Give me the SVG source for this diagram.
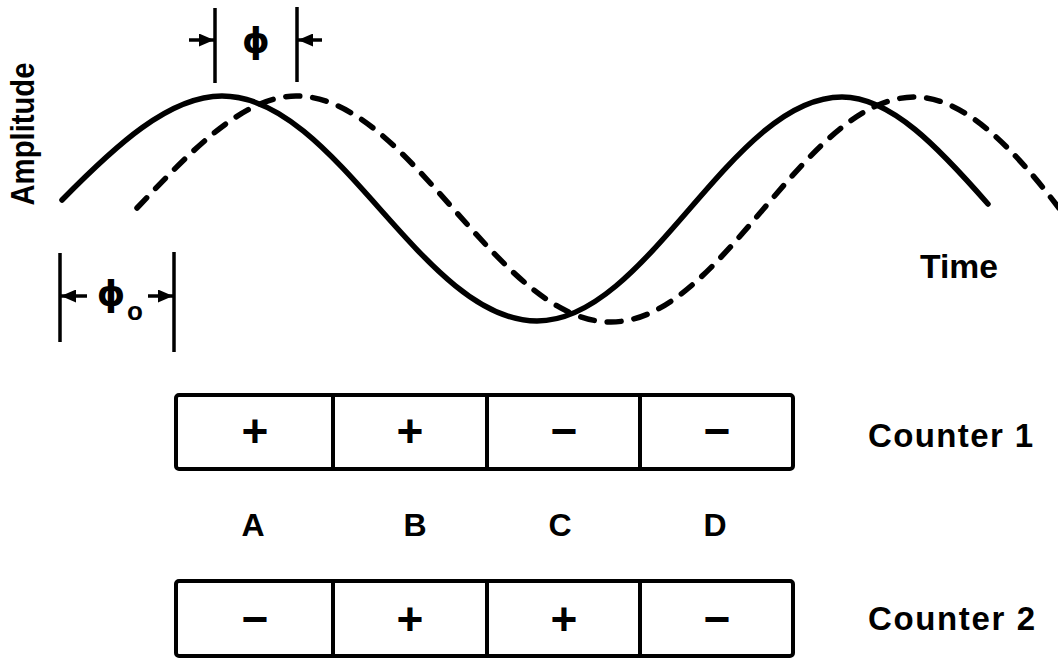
<svg xmlns="http://www.w3.org/2000/svg" width="1058" height="659" viewBox="0 0 1058 659">
<defs>
<style>
.t{font-family:"Liberation Sans",Arial,sans-serif;font-weight:bold;fill:#000}
.g{font-family:"DejaVu Sans","Liberation Sans",sans-serif;font-weight:bold;fill:#000}
.box{fill:none;stroke:#000;stroke-width:4;stroke-linejoin:round}
.div{stroke:#000;stroke-width:4}
.dim{stroke:#000;stroke-width:3.5;fill:none}
.sign{font-size:46px;text-anchor:middle}
.wave{fill:none;stroke:#000;stroke-width:5.5;stroke-linecap:round;stroke-linejoin:round}
.dash{stroke-dasharray:14 13}
</style>
<marker id="ah" markerUnits="userSpaceOnUse" markerWidth="15" markerHeight="13" refX="15" refY="6.5" orient="auto">
<path d="M0,0 L15,6.5 L0,13 z" fill="#000"/>
</marker>
</defs>
<rect width="1058" height="659" fill="#fff"/>

<g id="connectors">
<path id="solid-wave" class="wave" d="M62,200 C115,146 169,96 222,96 C337,96 422,321 537,321 C648,321 731,97 842,97 C891,97 939,148 988,204"/>
<path id="dashed-wave" class="wave dash" d="M137,208 C190,152 243,96 296,96 C410,96 497,322 611,322 C723,322 803,97 915,97 C965,97 1015,150 1062,212"/>
</g>

<g id="phi">
<line class="dim" x1="215" y1="8" x2="215" y2="83"/>
<line class="dim" x1="297" y1="7" x2="297" y2="82"/>
<line class="dim" x1="189" y1="40" x2="214" y2="40" marker-end="url(#ah)"/>
<line class="dim" x1="322" y1="40" x2="298" y2="40" marker-end="url(#ah)"/>
<text class="g" x="256" y="53" font-size="35" text-anchor="middle">ϕ</text>
</g>

<g id="phi0">
<line class="dim" x1="60" y1="253" x2="60" y2="342"/>
<line class="dim" x1="174" y1="252" x2="174" y2="352"/>
<line class="dim" x1="87" y1="296" x2="61" y2="296" marker-end="url(#ah)"/>
<line class="dim" x1="148" y1="296" x2="173" y2="296" marker-end="url(#ah)"/>
<text class="g" x="111" y="306" font-size="36" text-anchor="middle">ϕ</text>
<text class="t" x="127" y="320" font-size="26">o</text>
</g>

<g id="amplitude-label">
<text class="t" font-size="33" text-anchor="middle" transform="translate(34,134) rotate(-90)" textLength="143" lengthAdjust="spacingAndGlyphs">Amplitude</text>
</g>

<g id="time-label">
<text class="t" x="920" y="278" font-size="33" textLength="78" lengthAdjust="spacingAndGlyphs">Time</text>
</g>

<g id="counter1">
<rect class="box" x="176" y="395" width="617" height="74" rx="3"/>
<line class="div" x1="333" y1="395" x2="333" y2="469"/>
<line class="div" x1="487" y1="395" x2="487" y2="469"/>
<line class="div" x1="640" y1="395" x2="640" y2="469"/>
<text class="t sign" x="255" y="447">+</text>
<text class="t sign" x="410" y="447">+</text>
<text class="t sign" x="564" y="447">−</text>
<text class="t sign" x="717" y="447">−</text>
</g>
<g id="counter1-label">
<text class="t" x="868" y="447" font-size="33" textLength="165" lengthAdjust="spacing">Counter 1</text>
</g>

<g id="column-labels">
<text class="t" x="253" y="536" font-size="32" text-anchor="middle">A</text>
<text class="t" x="415" y="536" font-size="32" text-anchor="middle">B</text>
<text class="t" x="560" y="536" font-size="32" text-anchor="middle">C</text>
<text class="t" x="715" y="536" font-size="32" text-anchor="middle">D</text>
</g>

<g id="counter2">
<rect class="box" x="176" y="581" width="617" height="75" rx="3"/>
<line class="div" x1="333" y1="581" x2="333" y2="656"/>
<line class="div" x1="487" y1="581" x2="487" y2="656"/>
<line class="div" x1="640" y1="581" x2="640" y2="656"/>
<text class="t sign" x="255" y="635">−</text>
<text class="t sign" x="410" y="635">+</text>
<text class="t sign" x="564" y="635">+</text>
<text class="t sign" x="717" y="635">−</text>
</g>
<g id="counter2-label">
<text class="t" x="868" y="630" font-size="33" textLength="167" lengthAdjust="spacing">Counter 2</text>
</g>
</svg>
